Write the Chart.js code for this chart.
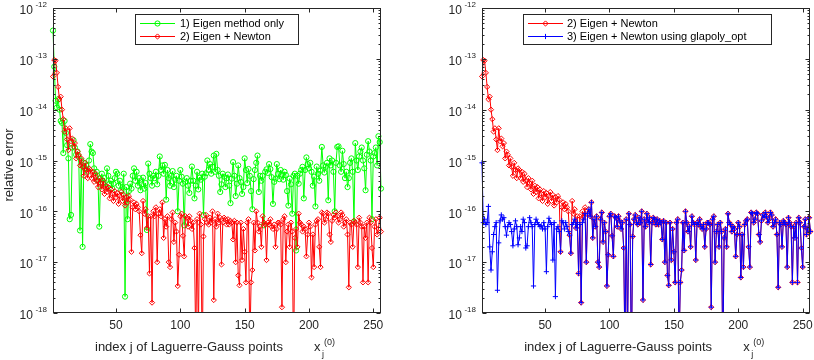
<!DOCTYPE html>
<html><head><meta charset="utf-8">
<script src="https://cdn.jsdelivr.net/npm/chart.js@4.4.1/dist/chart.umd.min.js"></script>
<style>
html,body{margin:0;padding:0;background:#fff;}
#wrap{position:relative;width:814px;height:360px;overflow:hidden;background:#fff;}
canvas{position:absolute;top:0;}
</style></head><body>
<div id="wrap">
<canvas id="c1" width="407" height="360" style="left:0px"></canvas>
<canvas id="c2" width="407" height="360" style="left:407px"></canvas>
</div>
<script>
// ---- categories ----
const jIndex = Array.from({length: 256}, (_, i) => i + 1);
const xTickValues = [50, 100, 150, 200, 250];
const yTickExponents = [-18, -17, -16, -15, -14, -13, -12];
const legendLeft = ['1) Eigen method only', '2) Eigen + Newton'];
const legendRight = ['2) Eigen + Newton', '3) Eigen + Newton using glapoly_opt'];
const xTitle = 'index j of Laguerre-Gauss points';
const yTitle = 'relative error';

// ---- series 1) Eigen method only ----
const eigenOnly = [
3.6e-13,7e-14,1.5e-14,1.1e-14,1.6e-14,1e-14,6e-15,5.5e-15,1.4e-15,6e-15,
3.5e-15,2e-15,1.1e-15,7e-17,8.5e-17,1.8e-15,2.5e-15,1.8e-15,1.3e-15,1.5e-15,
1.2e-15,4.2e-17,1e-15,2e-17,9e-16,7e-16,8e-16,6e-16,1e-15,2.1e-15,
1.5e-15,1.4e-15,7e-16,5e-16,6e-16,4e-16,5e-17,4.5e-16,5.5e-16,3.5e-16,
4.5e-16,3e-16,7e-16,5e-16,3.5e-16,4e-16,2.8e-16,3.5e-16,4.5e-16,6e-16,
5.5e-16,3.2e-16,4e-16,2.6e-16,3e-16,5.5e-16,2.1e-18,3e-16,7e-17,2.5e-16,
3.5e-16,2.8e-16,5e-16,7e-16,4e-16,6e-16,3.2e-16,4.5e-16,2.6e-16,3.4e-16,
4.6e-16,2.8e-16,3.6e-16,4.3e-17,8.7e-16,5.5e-16,4.5e-16,3.2e-16,5e-16,4.5e-16,
6e-16,3.4e-16,5e-16,1.2e-15,6.5e-16,8e-16,5.5e-16,8.2e-16,1.7e-16,6.5e-16,
4.5e-16,3.2e-16,5e-16,6.2e-16,3e-16,4.2e-16,5e-16,1e-16,4e-16,6.5e-16,
4.8e-16,3.5e-16,5.3e-17,3.8e-16,4.5e-16,3.2e-16,2.3e-16,4e-16,7.6e-16,4e-16,
1.8e-16,3.2e-16,6e-16,2.7e-16,4.6e-16,4.2e-16,5.5e-16,8.5e-17,4.8e-16,5.6e-16,
1e-15,6.5e-16,8.5e-16,5.5e-16,7.5e-16,1.25e-15,6e-16,1.35e-15,6.5e-16,5e-16,
2.4e-16,3.4e-16,5.5e-16,4.8e-16,3e-16,4.5e-16,5.3e-16,3.2e-16,1.45e-16,4.4e-16,
9.3e-16,5e-16,2e-16,3.5e-16,8e-16,4.5e-16,3.8e-16,2.2e-16,3e-16,1.1e-15,
6.5e-16,3.6e-16,6.8e-16,5e-16,2.5e-16,1.1e-16,4.3e-16,6.5e-16,9e-16,1.25e-15,
2.4e-16,5e-16,4e-16,5e-16,5.3e-17,6e-16,6.7e-16,5.7e-16,8.5e-16,6.8e-16,
4.7e-16,1.4e-16,3.8e-16,4.4e-16,8.5e-16,5.5e-16,4.3e-16,6.5e-16,5.3e-16,4.2e-16,
6e-16,5.2e-16,2.5e-16,1.3e-16,4.4e-16,3.4e-16,9e-17,5e-16,5.5e-16,1.7e-17,
5e-16,3.5e-16,5.5e-16,6.5e-16,7.5e-16,1.8e-16,6.5e-16,1.15e-15,8.5e-16,7e-16,
9e-16,6e-16,3.2e-16,4.8e-16,1.25e-16,7.6e-16,5.5e-16,4e-16,6.3e-16,1.85e-15,
8e-16,5.8e-16,7.5e-16,9e-16,1.65e-16,1.1e-15,8e-16,1e-15,6e-16,1e-16,
9e-16,1.85e-15,1.9e-15,8e-16,6e-16,1.55e-15,8.5e-16,4.5e-16,6e-16,3e-16,
4.5e-16,9e-16,1.1e-15,6e-16,6.3e-17,2.2e-15,1e-15,6.5e-16,1.2e-15,1.5e-15,
1.8e-15,1e-15,7e-16,2.6e-16,1.3e-15,2.4e-15,1.5e-15,1e-15,7e-17,1.2e-15,
1.4e-15,1.8e-15,8e-16,3e-15,2.3e-15,2.8e-16
];

// ---- series 2) Eigen + Newton ----
const eigenNewton = [
4.5e-14,9.5e-14,9.2e-14,5.3e-14,2.8e-14,1.6e-14,1.8e-14,1e-14,6.5e-15,3.7e-15,
4.3e-15,2.6e-15,1.6e-15,4.3e-15,2.4e-15,2.7e-15,1.9e-15,2.2e-15,1.1e-15,1.5e-15,
1.3e-15,8e-16,1.1e-15,7.5e-16,5e-16,9e-16,6.5e-16,4.5e-16,7e-16,6.5e-16,
4.5e-16,6e-16,3.8e-16,5.5e-16,4e-16,3e-16,4.5e-16,3.6e-16,2.7e-16,4e-16,
2.2e-16,3.2e-16,2.4e-16,3e-16,1.8e-16,2.7e-16,2.2e-16,1.6e-16,2.5e-16,1.9e-16,
2.3e-16,1.4e-16,2e-16,2.4e-16,1.6e-16,2.1e-16,1.3e-16,1.9e-16,1.5e-16,2e-16,
1.7e-16,1.6e-17,1.2e-16,1.5e-16,1.1e-16,1.4e-16,1.2e-16,1e-16,3.4e-17,1.5e-17,
1.6e-16,9e-17,1.1e-16,4.7e-17,8e-17,6e-18,8e-17,1.6e-18,1e-16,8e-17,
1.2e-16,1e-17,9e-17,1.1e-16,8e-17,1.5e-16,3e-17,7e-17,5e-17,8e-17,
1e-17,8e-18,7e-17,9.5e-17,2.5e-17,6e-17,4e-17,3.4e-18,1.4e-17,8e-17,
9e-17,3.3e-17,1.3e-17,8e-17,7.5e-17,5e-17,8e-17,6.5e-17,4.5e-17,6e-17,
1.9e-17,2e-19,7e-17,3e-19,9e-17,5.5e-17,1e-19,3.2e-17,7e-17,8.5e-17,
6e-17,5.5e-17,7.5e-17,6e-17,1e-16,1.8e-18,7e-17,5e-17,9e-17,6e-17,
7.5e-17,9e-18,6e-17,7.5e-17,7e-17,5.5e-17,7e-17,5.5e-17,6.5e-17,6e-17,
2.8e-17,6.5e-17,1e-17,6e-17,5.5e-18,3.5e-18,6e-17,1.1e-17,4.5e-17,1.6e-17,
4e-18,6e-17,7e-17,2e-19,4e-18,7e-18,6e-17,1.7e-17,1e-16,6e-17,
4e-17,5e-17,2e-17,8e-17,6e-17,5.5e-17,1.1e-17,6e-17,5.5e-17,7e-17,
5e-17,4.5e-17,5.5e-17,2e-17,4.5e-17,6e-17,6e-17,5.5e-17,1.3e-18,7e-17,
8e-17,1e-17,4e-17,5.5e-17,2e-17,6e-17,4e-17,1e-19,3e-17,4.5e-17,
2e-17,9e-17,6e-17,5.5e-17,4e-17,5e-17,4.5e-17,1.3e-17,3.5e-17,6e-17,
5e-17,5e-18,3.5e-17,8e-18,5.5e-17,6.5e-17,7e-17,2e-17,8e-18,9.5e-17,
9e-17,6e-17,7e-17,9.5e-17,9e-17,3.5e-17,2.5e-17,6.5e-17,8.5e-17,7.5e-17,
9.5e-17,8e-17,6e-17,7e-17,9.5e-17,8.5e-17,5e-17,6e-17,7e-17,3.5e-17,
3.2e-18,6e-17,5.5e-17,2e-17,6.5e-17,6e-17,5.5e-17,8e-18,7.5e-17,6e-17,
5e-17,4e-18,5e-17,3e-17,6e-17,4e-18,7.5e-17,6e-17,1.9e-17,8e-18,
5e-17,7e-17,3.5e-17,4.5e-17,7.5e-17,4e-17
];

// ---- series 3) Eigen + Newton using glapoly_opt (first points differ, rest coincide with 2) ----
const glapolyOptHead = [
9e-16,6e-17,7e-17,5.5e-17,6e-17,1.25e-16,2e-17,7e-18,1.6e-17,3.5e-17,
5e-17,6e-17,2.8e-18,2.4e-17,6.5e-17,8.5e-17,7e-17,7.5e-17,5e-17,3.4e-17,
5e-17,6e-17,5.5e-17,4e-17,2.1e-17,4.5e-17,6.5e-17,5e-17,2.2e-17,3e-17,
5e-17,4e-17,7e-17,6e-17,1.9e-17,2.1e-17,5e-17,7.5e-17,6e-17,5e-17,
3.4e-18,5.5e-17,7e-17,6e-17,5.5e-17,5e-17,5.2e-17,4.5e-17,6e-17,4.5e-17,
6.5e-18,5e-17,7.3e-17,6e-17,5.5e-17,1.1e-17,6e-17,2.1e-18,4.5e-17,5e-17,
4e-17,1.6e-17,6.5e-17,6e-17,4.5e-17,6e-17,5e-17,4e-17,3.4e-17,1.5e-17,
5.5e-17,6e-17,7e-17,4.7e-17,6e-17,6e-18,5.5e-17,1.6e-18,6e-17,7e-17,
9e-17,1e-17,9e-17,1.1e-16
];
const glapolyOpt = glapolyOptHead.concat(eigenNewton.slice(glapolyOptHead.length));

// ---- drawing ----
const INK = '#262626';
const FONT = '"Liberation Sans", Arial, Helvetica, sans-serif';
const toPts = arr => arr.map((v, i) => ({x: jIndex[i], y: v}));

function ds(label, data, color, style, order) {
  return {
    label, data: toPts(data), borderColor: color, backgroundColor: color,
    borderWidth: 1, pointStyle: style, pointRadius: 2.6, pointHoverRadius: 2.6,
    pointBorderColor: color, pointBackgroundColor: 'rgba(0,0,0,0)', pointBorderWidth: 1,
    tension: 0, fill: false, order, clip: {left: 6, right: 6, top: 6, bottom: 0}
  };
}

function marker(ctx, style, x, y, r, color) {
  ctx.save();
  ctx.strokeStyle = color; ctx.lineWidth = 1;
  ctx.beginPath();
  if (style === 'circle') { ctx.arc(x, y, r, 0, Math.PI * 2); }
  else if (style === 'rectRot') { ctx.moveTo(x, y - r); ctx.lineTo(x + r, y); ctx.lineTo(x, y + r); ctx.lineTo(x - r, y); ctx.closePath(); }
  else { ctx.moveTo(x - r, y); ctx.lineTo(x + r, y); ctx.moveTo(x, y - r); ctx.lineTo(x, y + r); }
  ctx.stroke();
  ctx.restore();
}

function decoPlugin(cfg) {
  return {
    id: 'deco',
    afterDraw(chart) {
      const ctx = chart.ctx, a = chart.chartArea, xs = chart.scales.x, ys = chart.scales.y;
      const L = Math.round(a.left) + 0.5, R = Math.round(a.right) - 0.5;
      const T = Math.round(a.top) + 0.5, B = Math.round(a.bottom) - 0.5;
      ctx.save();
      ctx.strokeStyle = INK; ctx.lineWidth = 1;
      ctx.strokeRect(L, T, R - L, B - T);
      ctx.beginPath();
      for (const v of xTickValues) {
        const px = Math.round(xs.getPixelForValue(v)) + 0.5;
        ctx.moveTo(px, B); ctx.lineTo(px, B - 4);
        ctx.moveTo(px, T); ctx.lineTo(px, T + 4);
      }
      for (const e of yTickExponents) {
        const py = Math.round(ys.getPixelForValue(Math.pow(10, e))) + 0.5;
        ctx.moveTo(L, py); ctx.lineTo(L + 4, py);
        ctx.moveTo(R, py); ctx.lineTo(R - 4, py);
        if (e < -12) {
          for (let m = 2; m <= 9; m++) {
            const pm = Math.round(ys.getPixelForValue(m * Math.pow(10, e))) + 0.5;
            ctx.moveTo(L, pm); ctx.lineTo(L + 2, pm);
            ctx.moveTo(R, pm); ctx.lineTo(R - 2, pm);
          }
        }
      }
      ctx.stroke();

      ctx.fillStyle = INK;
      // x tick labels
      ctx.font = '12px ' + FONT; ctx.textAlign = 'center'; ctx.textBaseline = 'middle';
      for (const v of xTickValues) ctx.fillText(String(v), xs.getPixelForValue(v), a.bottom + 13);
      // y tick labels 10^e
      for (const e of yTickExponents) {
        const py = ys.getPixelForValue(Math.pow(10, e));
        const sup = String(e);
        ctx.font = '8px ' + FONT; const ws = ctx.measureText(sup).width;
        ctx.font = '12px ' + FONT; const wb = ctx.measureText('10').width;
        const right = a.left - 6;
        ctx.textAlign = 'left'; ctx.textBaseline = 'middle';
        ctx.fillText('10', right - ws - 2.5 - wb, py + 3);
        ctx.font = '8px ' + FONT;
        ctx.fillText(sup, right - ws, py - 3);
      }
      // x axis title
      const cx = (a.left + a.right) / 2;
      ctx.textBaseline = 'alphabetic'; ctx.textAlign = 'left';
      ctx.font = '13px ' + FONT;
      ctx.fillText(xTitle, cx - 122, 351);
      ctx.fillText('x', cx + 97, 351);
      ctx.font = '9px ' + FONT;
      ctx.fillText('j', cx + 105, 357);
      ctx.fillText('(0)', cx + 107, 345);
      // y axis title
      if (cfg.yTitle) {
        ctx.save();
        ctx.translate(12.5, 165);
        ctx.rotate(-Math.PI / 2);
        ctx.font = '13px ' + FONT; ctx.textAlign = 'center'; ctx.textBaseline = 'alphabetic';
        ctx.fillText(yTitle, 0, 0);
        ctx.restore();
      }
      // legend
      const lg = cfg.legend;
      ctx.fillStyle = '#ffffff';
      ctx.fillRect(lg.x0, lg.y0, lg.x1 - lg.x0, lg.y1 - lg.y0);
      ctx.strokeStyle = INK; ctx.lineWidth = 1;
      ctx.strokeRect(lg.x0 + 0.5, lg.y0 + 0.5, lg.x1 - lg.x0 - 1, lg.y1 - lg.y0 - 1);
      lg.items.forEach((it, k) => {
        const yy = lg.rows[k];
        ctx.strokeStyle = it.color; ctx.lineWidth = 1;
        ctx.beginPath(); ctx.moveTo(lg.lx0, yy); ctx.lineTo(lg.lx1, yy); ctx.stroke();
        marker(ctx, it.style, (lg.lx0 + lg.lx1) / 2, yy, 2.6, it.color);
        ctx.fillStyle = '#000';
        ctx.font = '11px ' + FONT; ctx.textAlign = 'left'; ctx.textBaseline = 'middle';
        ctx.fillText(it.text, lg.tx, yy + 0.5);
      });
      ctx.restore();
    }
  };
}

function makeChart(id, datasets, padding, cfg) {
  return new Chart(document.getElementById(id), {
    type: 'line',
    data: {datasets},
    options: {
      responsive: false, animation: false, devicePixelRatio: 1, events: [],
      layout: {padding},
      plugins: {legend: {display: false}, tooltip: {enabled: false}},
      scales: {
        x: {type: 'linear', min: 1, max: 256, display: false},
        y: {type: 'logarithmic', min: 1e-18, max: 1e-12, display: false}
      }
    },
    plugins: [decoPlugin(cfg)]
  });
}

makeChart('c1', [
  ds(legendLeft[0], eigenOnly, '#00ff00', 'circle', 2),
  ds(legendLeft[1], eigenNewton, '#ff0000', 'rectRot', 1)
], {left: 53, right: 26, top: 8, bottom: 47}, {
  yTitle: true,
  legend: {x0: 135, y0: 14, x1: 299, y1: 45, lx0: 140, lx1: 175, tx: 180, rows: [23.5, 36.5],
    items: [{text: legendLeft[0], color: '#00ff00', style: 'circle'},
            {text: legendLeft[1], color: '#ff0000', style: 'rectRot'}]}
});

makeChart('c2', [
  ds(legendRight[0], eigenNewton, '#ff0000', 'rectRot', 2),
  ds(legendRight[1], glapolyOpt, '#0000ff', 'cross', 1)
], {left: 75, right: 2, top: 8, bottom: 47}, {
  yTitle: false,
  legend: {x0: 116, y0: 14, x1: 365, y1: 45, lx0: 121, lx1: 156, tx: 160, rows: [23.5, 36.5],
    items: [{text: legendRight[0], color: '#ff0000', style: 'rectRot'},
            {text: legendRight[1], color: '#0000ff', style: 'cross'}]}
});
</script>
</body></html>
